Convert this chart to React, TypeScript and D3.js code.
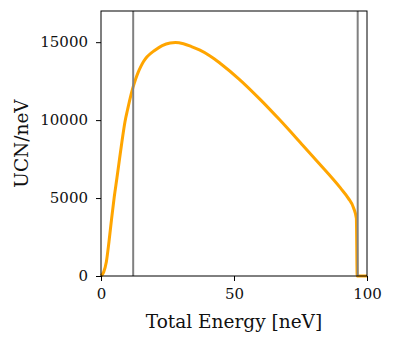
import * as d3 from "d3";
import { useEffect, useRef } from "react";

// spectrum
const energy = [0, 1, 2, 3, 4, 5, 6, 7, 8, 9, 10, 11, 12, 13, 14, 15, 16, 17, 18, 20, 23, 26, 28, 31, 34, 37, 41, 45, 52, 60, 67, 75, 82, 90, 93, 95, 96, 96.3, 100];
const ucn = [0, 250, 900, 2200, 3700, 5100, 6300, 7550, 8770, 9880, 10680, 11430, 12080, 12620, 13080, 13450, 13760, 14000, 14180, 14450, 14780, 14950, 14980, 14900, 14720, 14500, 14120, 13620, 12620, 11300, 10050, 8550, 7220, 5650, 4980, 4350, 3700, 0, 0];
const cutLines = [12.1, 96.5];
const xTicks = [0, 50, 100];
const yTicks = [0, 5000, 10000, 15000];

function App() {
	const ref = useRef<SVGSVGElement>(null);

	useEffect(() => {
		const svg = d3.select(ref.current);
		svg.selectAll("*").remove();

		const margin = { left: 101, right: 27, top: 11, bottom: 69 };
		const width = 394, height = 345;

		const x = d3.scaleLinear().domain([0, 100]).range([margin.left, width - margin.right]);
		const y = d3.scaleLinear().domain([0, 17000]).range([height - margin.bottom, margin.top]);

		const font = "DejaVu Serif";
		const data = energy.map((e, i) => ({ e, v: ucn[i] }));

		svg.append("rect")
			.attr("width", width)
			.attr("height", height)
			.attr("fill", "white");

		const line = d3.line<{ e: number; v: number }>()
			.x((d) => x(d.e))
			.y((d) => y(d.v))
			.curve(d3.curveMonotoneX);

		svg.append("path")
			.datum(data)
			.attr("d", line)
			.attr("fill", "none")
			.attr("stroke", "orange")
			.attr("stroke-width", 3)
			.attr("stroke-linejoin", "round");

		svg.selectAll(".cut")
			.data(cutLines)
			.enter()
			.append("line")
			.attr("x1", (d) => x(d))
			.attr("x2", (d) => x(d))
			.attr("y1", y(0))
			.attr("y2", margin.top)
			.attr("stroke", "gray")
			.attr("stroke-width", 2);

		const xAxis = svg.append("g")
			.attr("transform", "translate(0," + y(0) + ")")
			.call(d3.axisBottom(x).tickValues(xTicks).tickSize(5).tickPadding(9).tickFormat(d3.format("d")));
		const yAxis = svg.append("g")
			.attr("transform", "translate(" + margin.left + ",0)")
			.call(d3.axisLeft(y).tickValues(yTicks).tickSize(5).tickPadding(8).tickFormat(d3.format("d")));

		[xAxis, yAxis].forEach((g) => {
			g.select(".domain").remove();
			g.selectAll(".tick line").attr("stroke", "black").attr("stroke-width", 1);
			g.selectAll(".tick text")
				.attr("font-family", font)
				.attr("font-size", 15)
				.attr("fill", "#111");
		});
		xAxis.selectAll(".tick text").attr("dy", "0.6em");

		// frame
		svg.append("rect")
			.attr("x", margin.left)
			.attr("y", margin.top)
			.attr("width", width - margin.right - margin.left)
			.attr("height", height - margin.bottom - margin.top)
			.attr("fill", "none")
			.attr("stroke", "black")
			.attr("stroke-width", 1);

		svg.append("text")
			.attr("x", (margin.left + width - margin.right) / 2)
			.attr("y", 328)
			.attr("text-anchor", "middle")
			.attr("font-family", font)
			.attr("font-size", 18.5)
			.attr("fill", "#111")
			.text("Total Energy [neV]");

		svg.append("text")
			.attr("transform", "translate(28," + (margin.top + height - margin.bottom) / 2 + ") rotate(-90)")
			.attr("text-anchor", "middle")
			.attr("font-family", font)
			.attr("font-size", 18.5)
			.attr("fill", "#111")
			.text("UCN/neV");
	}, []);

	return (
		<svg
			ref={ref}
			width={394}
			height={345}
			style={{ position: "absolute", left: 0, top: 0 }}
		></svg>
	);
}

export default App;
